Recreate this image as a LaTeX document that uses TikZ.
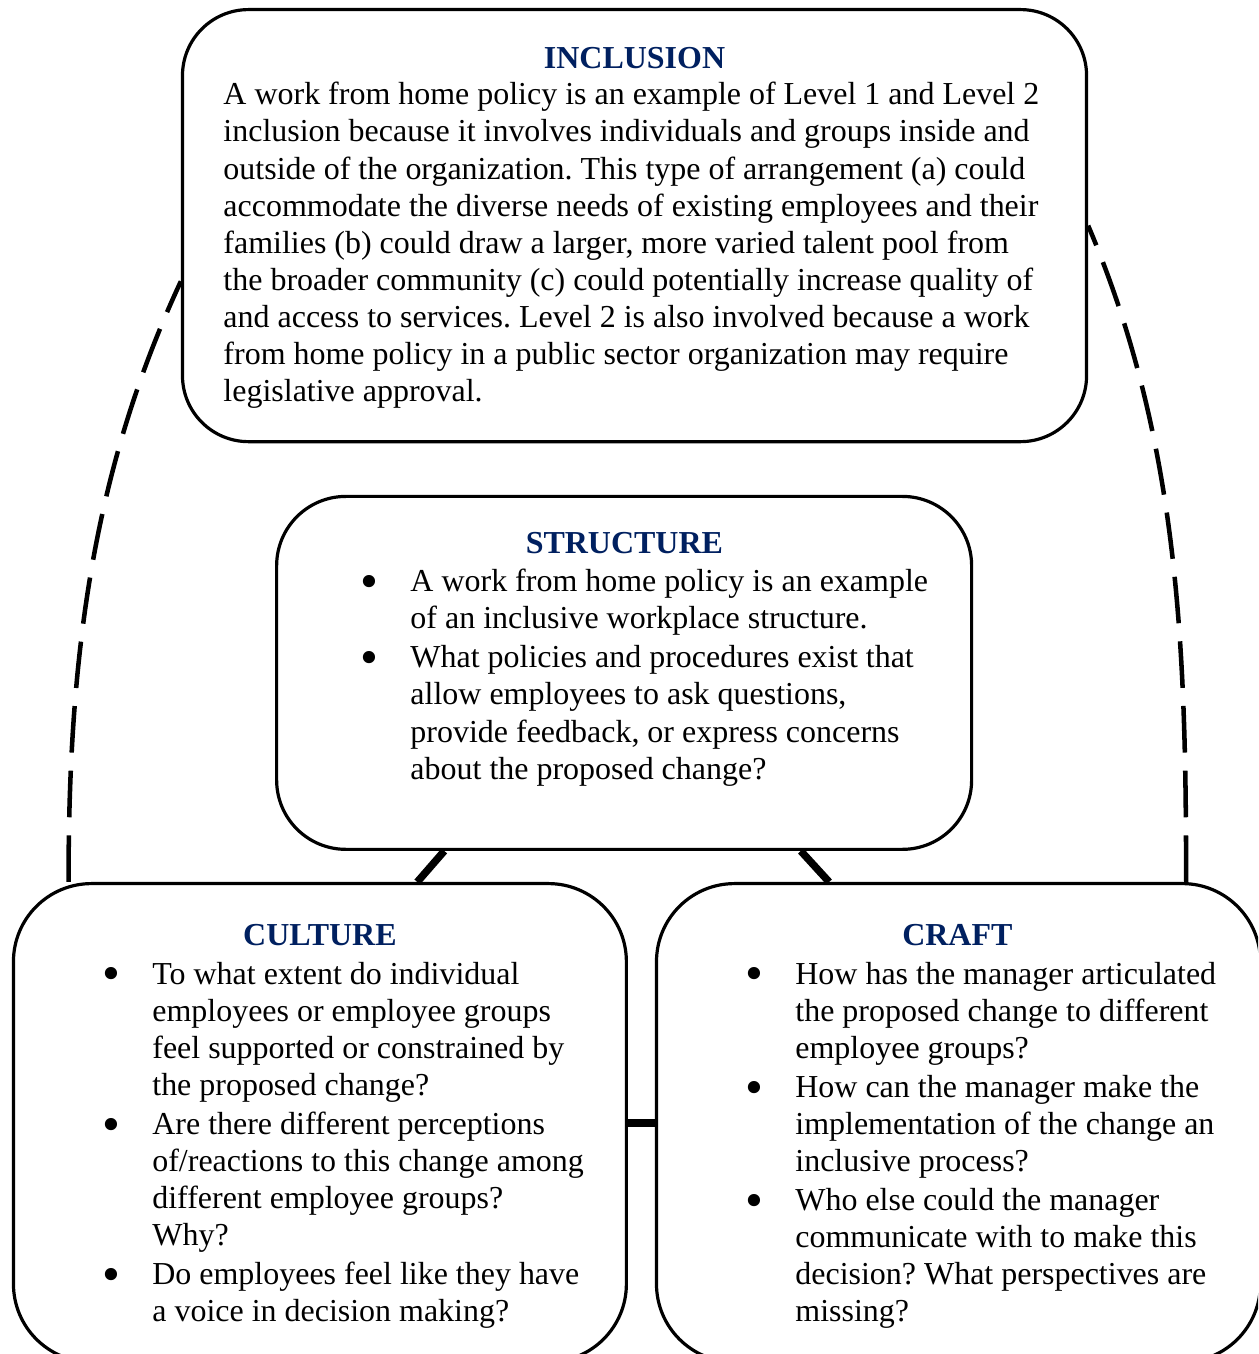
\documentclass[tikz,border=0pt]{standalone}
\usepackage{fontspec}
\setmainfont{Liberation Serif}
\usepackage{graphicx}
\usetikzlibrary{calc, positioning}
\definecolor{titleblue}{RGB}{0,32,96}
\frenchspacing

% bigger round bullet, as in the lists of the picture
\newcommand{\bul}{\hspace*{-1.2pt}\raisebox{-2.4pt}{\scalebox{1.6}{\textbullet}}}

\begin{document}
\begin{tikzpicture}[x=1pt, y=1pt,
        every node/.style={font=\fontsize{12}{13.9}\selectfont, inner sep=0pt},
        box/.style={draw, line width=1.2pt, rounded corners=#1},
        title/.style={font=\fontsize{12}{13.9}\selectfont\bfseries, text=titleblue, anchor=base},
        body/.style={anchor=base west},
        link/.style={line width=2.8pt},
        dashlink/.style={line width=1.7pt, dash pattern=on 17.5pt off 6.8pt}]

        \useasboundingbox (0,0) rectangle (472.3,-508.3);
        \clip (0,0) rectangle (472.3,-508.3);

        %% BOXES
        \node[box=24.8pt, minimum width=339.4pt, minimum height=162.2pt] (inclusion) at (238.2,-84.7) {};
        \node[box=26pt, minimum width=260.9pt, minimum height=132.5pt] (structure) at (234.3,-252.6) {};
        \node[box=29.3pt, minimum width=230.1pt, minimum height=179.6pt] (culture) at (120.1,-421.5) {};
        \node[box=29.3pt, minimum width=226.7pt, minimum height=179.6pt] (craft) at (359.8,-421.5) {};

        %% TITLES
        \node[title] (tinclusion) at (238.2,-25.7) {INCLUSION};
        \node[title] (tstructure) at (234.4,-207.6) {STRUCTURE};
        \node[title] (tculture) at (120.1,-354.9) {CULTURE};
        \node[title] (tcraft) at (359.4,-354.9) {CRAFT};

        %% TEXT
        \node[body] (binclusion) at (83.7,-39.4) {\begin{tabular}[t]{@{}l@{}}
            A work from home policy is an example of Level 1 and Level 2\\
            inclusion because it involves individuals and groups inside and\\
            outside of the organization. This type of arrangement (a) could\\
            accommodate the diverse needs of existing employees and their\\
            families (b) could draw a larger, more varied talent pool from\\
            the broader community (c) could potentially increase quality of\\
            and access to services. Level 2 is also involved because a work\\
            from home policy in a public sector organization may require\\
            legislative approval.
        \end{tabular}};

        \node[body] (bstructure) at (136.3,-222.2) {\begin{tabular}[t]{@{}p{17.6pt}@{}l@{}}
            \bul & A work from home policy is an example\\
                 & of an inclusive workplace structure.\\[0.75pt]
            \bul & What policies and procedures exist that\\
                 & allow employees to ask questions,\\
                 & provide feedback, or express concerns\\
                 & about the proposed change?
        \end{tabular}};

        \node[body] (bculture) at (39.4,-369.6) {\begin{tabular}[t]{@{}p{17.6pt}@{}l@{}}
            \bul & To what extent do individual\\
                 & employees or employee groups\\
                 & feel supported or constrained by\\
                 & the proposed change?\\[0.75pt]
            \bul & Are there different perceptions\\
                 & of/reactions to this change among\\
                 & different employee groups?\\
                 & Why?\\[0.75pt]
            \bul & Do employees feel like they have\\
                 & a voice in decision making?
        \end{tabular}};

        \node[body] (bcraft) at (280.8,-369.6) {\begin{tabular}[t]{@{}p{17.6pt}@{}l@{}}
            \bul & How has the manager articulated\\
                 & the proposed change to different\\
                 & employee groups?\\[0.75pt]
            \bul & How can the manager make the\\
                 & implementation of the change an\\
                 & inclusive process?\\[0.75pt]
            \bul & Who else could the manager\\
                 & communicate with to make this\\
                 & decision? What perspectives are\\
                 & missing?
        \end{tabular}};

        %% LINKS
        \draw[link] ($(structure.south west)!0.2424!(structure.south east)$) -- ($(culture.north west)!0.658!(culture.north east)$);
        \draw[link] ($(structure.south west)!0.753!(structure.south east)$) -- ($(craft.north west)!0.287!(craft.north east)$);
        \draw[link] (culture.east) -- (craft.west);

        % dashed arcs back up to the top box
        \draw[dashlink] ($(culture.north west)!0.092!(culture.north east)$) to[out=90, in=-115, looseness=0.9] (inclusion.187.5);
        \draw[dashlink] ($(craft.north west)!0.875!(craft.north east)$) to[out=90, in=-67, looseness=0.9] (inclusion.east);

    \end{tikzpicture}
\end{document}
